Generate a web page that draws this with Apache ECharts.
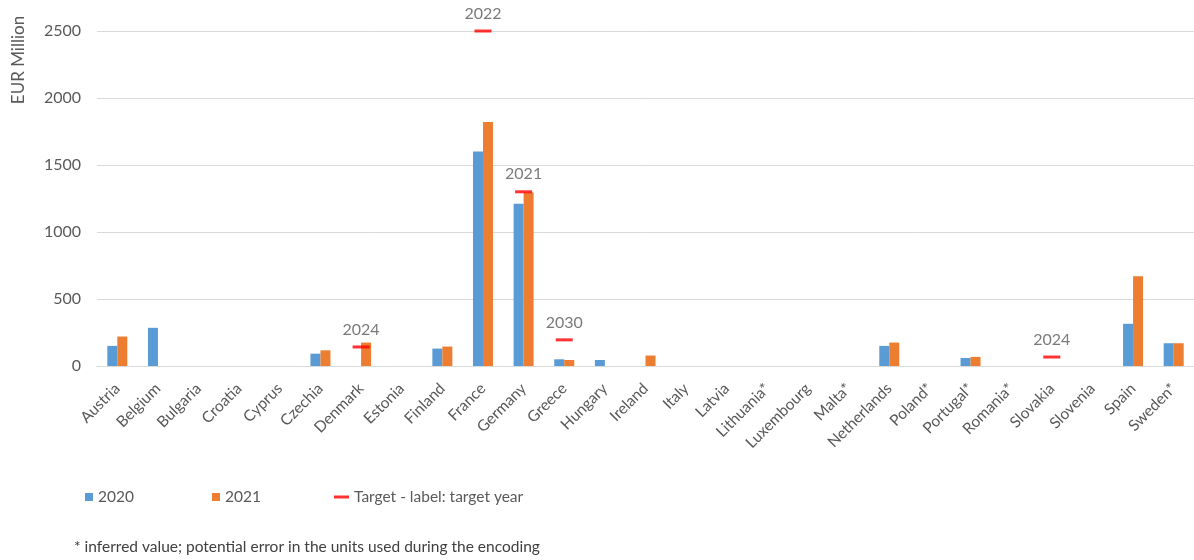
<!DOCTYPE html>
<html>
<head>
<meta charset="utf-8">
<style>
  html, body { margin: 0; padding: 0; background: #ffffff; }
  #chart { width: 1194px; height: 560px; }
</style>
<script src="https://cdn.jsdelivr.net/npm/echarts@6/dist/echarts.min.js"></script>
</head>
<body>
<div id="chart"></div>
<script>
// Member states on the category axis
const countries = ['Austria', 'Belgium', 'Bulgaria', 'Croatia', 'Cyprus', 'Czechia', 'Denmark', 'Estonia',
  'Finland', 'France', 'Germany', 'Greece', 'Hungary', 'Ireland', 'Italy', 'Latvia', 'Lithuania*',
  'Luxembourg', 'Malta*', 'Netherlands', 'Poland*', 'Portugal*', 'Romania*', 'Slovakia', 'Slovenia',
  'Spain', 'Sweden*'];

// Values in EUR million (null = no value reported)
const values2020 = [150, 285, null, null, null, 92, null, null, 130, 1600, 1210, 50, 45, null, null, null, null,
  null, null, 150, null, 60, null, null, null, 315, 170];
const values2021 = [220, null, null, null, null, 117, 175, null, 145, 1820, 1295, 45, null, 78, null, null, null,
  null, null, 175, null, 68, null, null, null, 670, 170];

// Targets and the year each target applies to
const targetValues = [null, null, null, null, null, null, 142, null, null, 2500, 1300, 195, null, null, null, null,
  null, null, null, null, null, null, null, 67, null, null, null];
const targetYears = [null, null, null, null, null, null, '2024', null, null, '2022', '2021', '2030', null, null,
  null, null, null, null, null, null, null, null, null, '2024', null, null, null];

const yTicks = [0, 500, 1000, 1500, 2000, 2500];

const textGrey = '#595959';
const fontFamily = 'Lato, "Open Sans", sans-serif';

const chart = echarts.init(document.getElementById('chart'), null, { renderer: 'canvas' });

chart.setOption({
  animation: false,
  backgroundColor: '#ffffff',
  textStyle: { fontFamily: fontFamily, color: textGrey },
  grid: { left: 97, top: 31, width: 1101, height: 335, containLabel: false },
  xAxis: {
    type: 'category',
    data: countries,
    axisLine: { show: true, lineStyle: { color: '#d9d9d9', width: 1 } },
    axisTick: { show: false },
    axisLabel: { rotate: 45, color: textGrey, fontSize: 15.5, margin: 20, interval: 0, fontFamily: fontFamily }
  },
  yAxis: {
    type: 'value',
    min: yTicks[0],
    max: yTicks[yTicks.length - 1],
    interval: yTicks[1] - yTicks[0],
    axisLine: { show: false },
    axisTick: { show: false },
    splitLine: { lineStyle: { color: '#d9d9d9', width: 1 } },
    axisLabel: {
      color: textGrey, fontSize: 16, margin: 16, fontFamily: fontFamily,
      formatter: function (v) { return String(v); }
    }
  },
  legend: [
    {
      data: ['2020'], left: 80, top: 484, icon: 'rect', itemWidth: 8, itemHeight: 8, itemGap: 5,
      textStyle: { color: textGrey, fontSize: 15.5, fontFamily: fontFamily }
    },
    {
      data: ['2021'], left: 207, top: 484, icon: 'rect', itemWidth: 8, itemHeight: 8, itemGap: 5,
      textStyle: { color: textGrey, fontSize: 15.5, fontFamily: fontFamily }
    },
    {
      data: ['Target - label: target year'], left: 329, top: 484, icon: 'rect', itemWidth: 15, itemHeight: 3,
      textStyle: { color: textGrey, fontSize: 15.5, fontFamily: fontFamily }
    }
  ],
  graphic: [
    {
      type: 'text', x: 19, y: 60, rotation: Math.PI / 2,
      style: { text: 'EUR Million', fill: textGrey, font: '17px ' + fontFamily, align: 'center', verticalAlign: 'middle' }
    },
    {
      type: 'text', left: 74, top: 539,
      style: { text: '* inferred value; potential error in the units used during the encoding', fill: '#404040',
        font: '15.5px ' + fontFamily }
    }
  ],
  series: [
    {
      name: '2020', type: 'bar', data: values2020, barWidth: 10, barGap: '0%',
      itemStyle: { color: '#5b9bd5' }
    },
    {
      name: '2021', type: 'bar', data: values2021, barWidth: 10, barGap: '0%',
      itemStyle: { color: '#ed7d31' }
    },
    {
      name: 'Target - label: target year', type: 'scatter', data: targetValues,
      symbol: 'rect', symbolSize: [17, 3], z: 5,
      itemStyle: { color: '#ff0000' },
      label: {
        show: true, position: 'top', distance: 8, color: textGrey, fontSize: 16, fontFamily: fontFamily,
        formatter: function (p) { return targetYears[p.dataIndex] || ''; }
      }
    }
  ]
});
</script>
</body>
</html>
